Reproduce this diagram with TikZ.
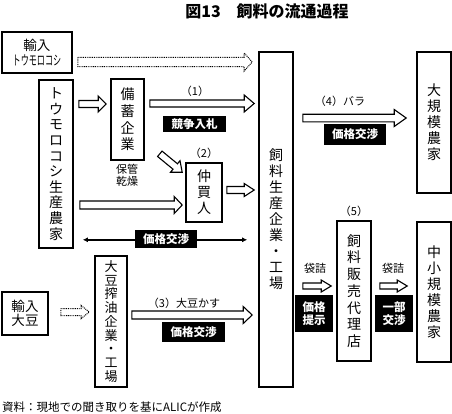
\documentclass[tikz,border=0pt]{standalone}
\usepackage{fontspec}
\setmainfont{Noto Sans CJK JP}
\usepackage{tikz}
\usetikzlibrary{arrows.meta,positioning,calc}
\tikzset{
  arrshaft/.store in=\arrshaft, arrhead/.store in=\arrhead, arrlen/.store in=\arrlen,
  arrshaft=3.5pt, arrhead=8pt, arrlen=9pt,
  unit/.style={draw, line width=1.6pt, inner sep=0pt, align=center,
               font=\fontsize{14}{16}\selectfont},
  tag/.style={fill=black, text=white, inner sep=0pt, align=center,
              font=\bfseries\fontsize{11.5}{13}\selectfont},
  lbl/.style={inner sep=0pt, align=center, font=\fontsize{11}{12}\selectfont},
  hollow/.style={draw, line width=1.1pt, fill=white, line join=miter,
    to path={let \p1=(\tikztostart), \p2=(\tikztotarget),
                 \n1={atan2(\y2-\y1,\x2-\x1)} in
      ($(\p1)+(\n1+90:\arrshaft)$)
      -- ($(\p2)+(\n1+180:\arrlen)+(\n1+90:\arrshaft)$)
      -- ($(\p2)+(\n1+180:\arrlen)+(\n1+90:\arrhead)$)
      -- (\p2)
      -- ($(\p2)+(\n1+180:\arrlen)+(\n1-90:\arrhead)$)
      -- ($(\p2)+(\n1+180:\arrlen)+(\n1-90:\arrshaft)$)
      -- ($(\p1)+(\n1-90:\arrshaft)$) -- cycle}},
  imported/.style={hollow, line width=1pt, dash pattern=on 0.9pt off 0.9pt},
  trade/.style={{Latex[length=5pt,width=5pt]}-{Latex[length=5pt,width=5pt]}, line width=1.8pt},
}
\begin{document}
\begin{tikzpicture}[x=1pt,y=-1pt]
  \useasboundingbox (0,0) rectangle (452,413);
  \node[font=\bfseries\fontsize{16}{18}\selectfont] (title) at (267,11) {図13　飼料の流通過程};
  \node[unit, minimum width=70pt, minimum height=41pt, font=\fontsize{13.5}{15}\selectfont] (impcorn) at (37,52.5)
    {輸入\\\scalebox{0.6}[1]{トウモロコシ}};
  \node[unit, minimum width=34pt, minimum height=168pt, font=\fontsize{14}{15.6}\selectfont] (farm) at (56,164)
    {ト\\ウ\\モ\\ロ\\コ\\シ\\生\\産\\農\\家};
  \node[unit, minimum width=33pt, minimum height=81pt, font=\fontsize{14}{16.7}\selectfont] (stock) at (127.5,119.5)
    {備\\蓄\\企\\業};
  \node[unit, minimum width=36pt, minimum height=59pt] (broker) at (204,192.5) {仲\\買\\人};
  \node[unit, minimum width=34pt, minimum height=335pt] (factory) at (276,219.5)
    {飼\\料\\生\\産\\企\\業\\・\\工\\場};
  \node[unit, minimum width=34pt, minimum height=141pt] (large) at (434,122.5) {大\\規\\模\\農\\家};
  \node[unit, minimum width=34pt, minimum height=140pt] (small) at (434,292) {中\\小\\規\\模\\農\\家};
  \node[unit, minimum width=34pt, minimum height=140pt, font=\fontsize{14}{16.7}\selectfont] (dealer) at (354,291)
    {飼\\料\\販\\売\\代\\理\\店};
  \node[unit, minimum width=32pt, minimum height=131pt, font=\fontsize{13}{13.75}\selectfont] (soyfact) at (111,321.5)
    {大\\豆\\搾\\油\\企\\業\\・\\工\\場};
  \node[unit, minimum width=46pt, minimum height=43pt, font=\fontsize{13.5}{14.5}\selectfont] (impsoy) at (25,313.5)
    {輸入\\大豆};

  \draw[imported, arrshaft=4.7pt, arrhead=9pt, arrlen=8pt]
    ($(impcorn.east)+(5,9.5)$) to ($(factory.west|-impcorn.east)+(-6,9.5)$);
  \draw[hollow, arrlen=8pt] ($(farm.east|-stock.west)+(5,-15.5)$) to ($(stock.west)+(-4,-15.5)$);
  \draw[hollow, arrhead=8.5pt, arrlen=10pt] ($(stock.east)+(5,-16)$) to ($(factory.west|-stock.east)+(-4,-16)$);
  \draw[hollow, arrhead=7.5pt] ($(stock.south east)+(15,-7)$) to ($(broker.north west)+(-3,10)$);
  \draw[hollow, arrshaft=4pt, arrhead=8.5pt, arrlen=8pt]
    ($(farm.east|-broker.west)+(6,12.5)$) to ($(broker.west)+(-3,12.5)$);
  \draw[hollow, arrhead=6.5pt, arrlen=10pt] ($(broker.east)+(4,-2.5)$) to ($(factory.west|-broker.east)+(-4,-2.5)$);
  \draw[trade] ($(farm.east|-broker.south)+(9,17)$) -- ($(factory.west|-broker.south)+(-11,17)$);
  \draw[imported, arrhead=6.5pt, arrlen=8pt]
    ($(impsoy.east)+(12,-1.5)$) to ($(soyfact.west|-impsoy.east)+(-5,-1.5)$);
  \draw[hollow, arrshaft=4pt, arrhead=8.5pt] ($(soyfact.east|-impsoy.east)+(4,1.5)$) to ($(factory.west|-impsoy.east)+(-6,1.5)$);
  \draw[hollow, arrshaft=3.8pt, arrhead=8.5pt, arrlen=12pt]
    ($(factory.east|-large.west)+(9,-4.5)$) to ($(large.west)+(-10,-4.5)$);
  \draw[hollow, arrshaft=3pt, arrhead=6pt, arrlen=10pt]
    ($(factory.east|-dealer.west)+(9,-5)$) to ($(dealer.west)+(-5,-5)$);
  \draw[hollow, arrshaft=3pt, arrhead=6pt, arrlen=10pt]
    ($(dealer.east)+(8,-5)$) to ($(small.west|-dealer.east)+(-9,-5)$);

  \node[lbl] (n1) at (195,91) {（1）};
  \node[tag, minimum width=63pt, minimum height=16pt] (bid) at (194.5,124) {競争入札};
  \node[lbl, above=3pt of broker] (n2) {（2）};
  \node[lbl] (dry) at (127,175) {保管\\乾燥};
  \node[tag, minimum width=62pt, minimum height=18pt] (nego1) at (166,239) {価格交渉};
  \node[lbl] (n3) at (184,303) {（3）大豆かす};
  \node[tag, minimum width=63pt, minimum height=20pt] (nego3) at (193.5,332) {価格交渉};
  \node[lbl] (n4) at (340,101) {（4）バラ};
  \node[tag, minimum width=62pt, minimum height=21pt] (nego4) at (355,134.5) {価格交渉};
  \node[lbl, above=3.5pt of dealer] (n5) {（5）};
  \node[lbl] (bag1) at (315,268) {袋詰};
  \node[lbl] (bag2) at (393,268) {袋詰};
  \node[tag, minimum width=38pt, minimum height=37pt] (offer) at (314,313.5) {価格\\提示};
  \node[tag, minimum width=38pt, minimum height=37pt] (part) at (394,313.5) {一部\\交渉};
  \node[anchor=west, inner sep=0pt, font=\fontsize{11.5}{13}\selectfont] (source) at (2,407)
    {資料：現地での聞き取りを基にALICが作成};
\end{tikzpicture}
\end{document}
